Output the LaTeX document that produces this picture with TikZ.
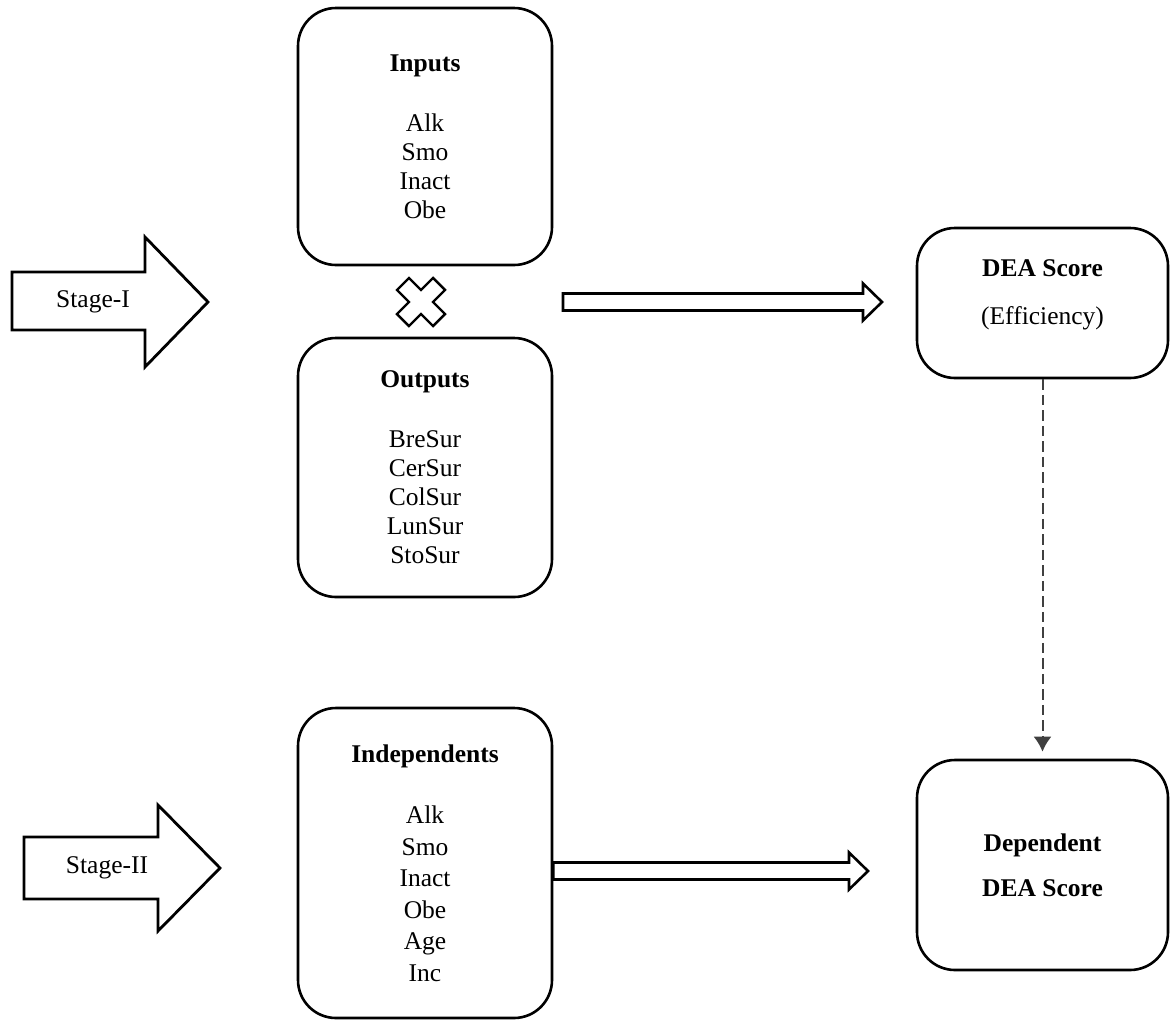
\documentclass[tikz,border=0pt]{standalone}
\usepackage{fontspec}
\setmainfont{Liberation Serif}
\usetikzlibrary{calc,arrows.meta}
\definecolor{dashgray}{RGB}{64,64,64}

\begin{document}
\begin{tikzpicture}[x=1pt, y=-1pt,
    font=\fontsize{25.5}{29}\selectfont,
    box/.style={draw, line width=2.6pt, rounded corners=38pt, align=center, inner sep=0pt},
    stagearrow/.style={draw, line width=2.8pt, line join=miter},
    fatarrow/.style={draw, line width=2.6pt, line join=miter, to path={
        ($(\tikztostart)+(0,-8.5)$) -- ($(\tikztotarget)+(-19,-8.5)$) -- ($(\tikztotarget)+(-19,-18.5)$)
        -- (\tikztotarget) -- ($(\tikztotarget)+(-19,18.5)$) -- ($(\tikztotarget)+(-19,8.5)$)
        -- ($(\tikztostart)+(0,8.5)$) -- cycle}},
    dashline/.style={draw=dashgray, line width=2pt, dash pattern=on 10.5pt off 5pt,
        -{Latex[length=15pt, width=18pt]}, shorten >=7pt}]
    \useasboundingbox (0,0) rectangle (1172,1021);

    % stage I
    \draw[stagearrow] (12,272) -- (145,272) -- (145,237) -- (208,302) -- (145,367) -- (145,330) -- (12,330) -- cycle;
    \node (stage1) at (93,302) {Stage-I};

    \node[box, minimum width=254pt, minimum height=257pt] (inputs) at (425,136.5)
        {\textbf{Inputs}\\[31pt] Alk\\ Smo\\ Inact\\ Obe};
    \node[box, minimum width=254pt, minimum height=259pt] (outputs) at (425,467.5)
        {\textbf{Outputs}\\[31pt] BreSur\\ CerSur\\ ColSur\\ LunSur\\ StoSur};

    % cross between inputs and outputs
    \draw[line width=2.4pt, shift={(421,302)}, rotate=45]
        (-25.5,-8.5) -- (-8.5,-8.5) -- (-8.5,-25.5) -- (8.5,-25.5) -- (8.5,-8.5) -- (25.5,-8.5)
        -- (25.5,8.5) -- (8.5,8.5) -- (8.5,25.5) -- (-8.5,25.5) -- (-8.5,8.5) -- (-25.5,8.5) -- cycle;

    \node[box, minimum width=251pt, minimum height=150pt] (dea) at (1042.5,303)
        {\textbf{DEA Score}\\[19pt] (Efficiency)\\[-7pt]\mbox{}};

    \coordinate (a1tail) at (563,302);
    \coordinate (a1tip) at (882,302);
    \draw[fatarrow] (a1tail) to (a1tip);

    % stage II
    \draw[stagearrow] (24,837) -- (158,837) -- (158,805) -- (220,868) -- (158,931) -- (158,899) -- (24,899) -- cycle;
    \node (stage2) at (107,868) {Stage-II};

    \node[box, minimum width=254pt, minimum height=310pt, font=\fontsize{25.5}{31.5}\selectfont] (indep) at (425,863)
        {\textbf{Independents}\\[30pt] Alk\\ Smo\\ Inact\\ Obe\\ Age\\ Inc};
    \node[box, minimum width=251pt, minimum height=210pt] (dep) at (1042.5,865)
        {\textbf{Dependent}\\[16pt] \textbf{DEA Score}};

    \coordinate (a2tip) at (868,871);
    \draw[fatarrow] (indep.east |- a2tip) to (a2tip);

    \draw[dashline] (dea.south) -- (dep.north);
\end{tikzpicture}
\end{document}
